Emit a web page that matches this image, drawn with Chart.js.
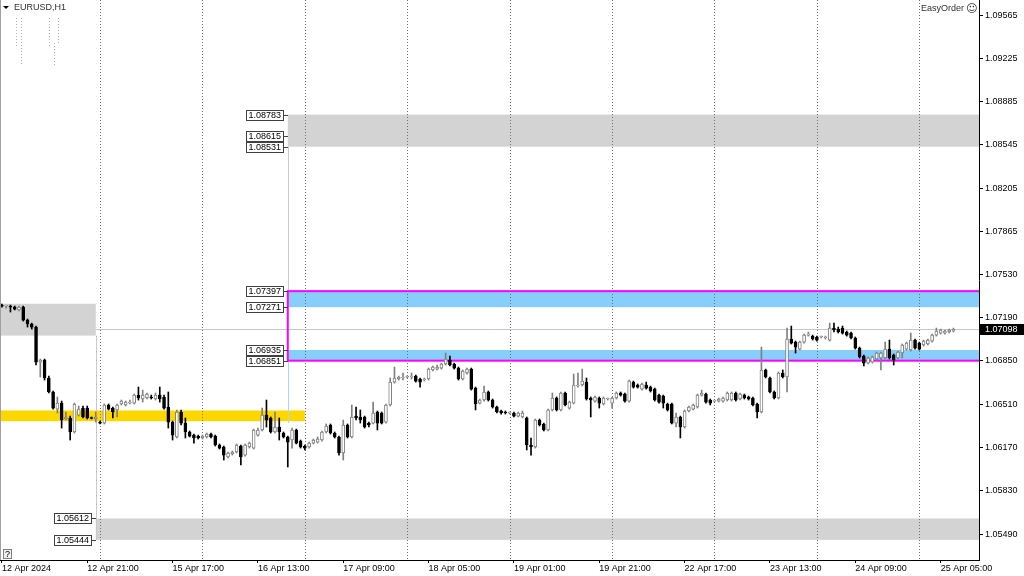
<!DOCTYPE html>
<html>
<head>
<meta charset="utf-8">
<title>EURUSD,H1</title>
<script src="https://cdn.jsdelivr.net/npm/chart.js@4.4.1/dist/chart.umd.min.js"></script>
<style>
    html, body { margin: 0; padding: 0; background: #ffffff; }
    canvas { display: block; }
</style>
</head>
<body>
<canvas id="chartEurusd" width="1024" height="576"></canvas>
<script>
// =============================================
// EURUSD H1 - velas, zonas y niveles
// =============================================

// Eje X: barras horarias desde 12 Apr 01:00 (barra 0)
const tickBars = [0, 20, 40, 60, 80, 100, 120, 140, 160, 180, 200, 220];
const tickLabels = ['12 Apr 2024', '12 Apr 21:00', '15 Apr 17:00', '16 Apr 13:00', '17 Apr 09:00',
    '18 Apr 05:00', '19 Apr 01:00', '19 Apr 21:00', '22 Apr 17:00', '23 Apr 13:00', '24 Apr 09:00', '25 Apr 05:00'];
const separatorBars = [23, 47, 71, 95, 119, 143, 167, 191, 215];   // 00:00 de cada día

// Eje Y
const priceTicks = [1.09565, 1.09225, 1.08885, 1.08545, 1.08205, 1.07865, 1.07530,
    1.07190, 1.06850, 1.06510, 1.06170, 1.05830, 1.05490];
const lastPrice = 1.07098;

// Velas OHLC
const opens = [
    1.07288,1.07280,1.07280,1.07272,1.07249,1.07272,1.07170,1.07139,1.07115,1.06840,1.06856,1.06715,1.06605,1.06471,1.06518,1.06393,
    1.06401,1.06291,1.06424,1.06479,1.06479,1.06401,1.06393,1.06369,1.06361,1.06503,1.06479,1.06464,1.06511,1.06503,1.06518,1.06518,
    1.06581,1.06550,1.06558,1.06566,1.06550,1.06581,1.06566,1.06487,1.06369,1.06252,1.06448,1.06361,1.06291,1.06267,1.06259,1.06244,
    1.06252,1.06275,1.06259,1.06189,1.06173,1.06095,1.06118,1.06134,1.06181,1.06110,1.06173,1.06165,1.06267,1.06307,1.06424,1.06401,
    1.06291,1.06330,1.06283,1.06252,1.06228,1.06307,1.06220,1.06181,1.06173,1.06204,1.06212,1.06228,1.06291,1.06346,1.06283,1.06252,
    1.06126,1.06346,1.06252,1.06416,1.06409,1.06409,1.06361,1.06361,1.06448,1.06440,1.06369,1.06503,1.06683,1.06707,1.06715,1.06723,
    1.06723,1.06730,1.06707,1.06699,1.06707,1.06778,1.06785,1.06793,1.06825,1.06856,1.06825,1.06793,1.06707,1.06754,1.06785,1.06636,
    1.06518,1.06542,1.06605,1.06542,1.06487,1.06456,1.06448,1.06440,1.06440,1.06416,1.06409,1.06401,1.06189,1.06173,1.06385,1.06354,
    1.06307,1.06464,1.06558,1.06464,1.06597,1.06479,1.06518,1.06652,1.06660,1.06683,1.06558,1.06534,1.06558,1.06511,1.06550,1.06518,
    1.06558,1.06597,1.06589,1.06534,1.06683,1.06660,1.06628,1.06660,1.06644,1.06628,1.06581,1.06573,1.06511,1.06511,1.06361,1.06409,
    1.06330,1.06456,1.06471,1.06487,1.06581,1.06589,1.06542,1.06534,1.06534,1.06534,1.06542,1.06542,1.06597,1.06550,1.06581,1.06566,
    1.06558,1.06511,1.06448,1.06778,1.06715,1.06605,1.06558,1.06754,1.06723,1.07021,1.06997,1.06942,1.06997,1.07052,1.07044,1.07037,
    1.07037,1.07029,1.07013,1.07107,1.07099,1.07107,1.07076,1.07068,1.07029,1.06950,1.06887,1.06832,1.06840,1.06864,1.06872,1.06872,
    1.06942,1.06895,1.06872,1.06911,1.06942,1.06935,1.07013,1.06989,1.06974,1.06982,1.07005,1.07052,1.07068,1.07068,1.07076,1.07084
];
const highs = [
    1.07296,1.07288,1.07288,1.07280,1.07280,1.07280,1.07178,1.07146,1.07123,1.06864,1.06864,1.06730,1.06613,1.06566,1.06534,1.06448,
    1.06416,1.06518,1.06495,1.06495,1.06495,1.06409,1.06448,1.06377,1.06511,1.06511,1.06487,1.06511,1.06542,1.06534,1.06542,1.06589,
    1.06644,1.06620,1.06597,1.06581,1.06597,1.06644,1.06581,1.06605,1.06377,1.06464,1.06464,1.06401,1.06299,1.06275,1.06267,1.06267,
    1.06283,1.06283,1.06267,1.06197,1.06181,1.06134,1.06142,1.06197,1.06189,1.06197,1.06212,1.06314,1.06322,1.06479,1.06542,1.06409,
    1.06448,1.06401,1.06291,1.06259,1.06322,1.06314,1.06228,1.06189,1.06212,1.06236,1.06252,1.06299,1.06354,1.06354,1.06291,1.06259,
    1.06385,1.06354,1.06503,1.06487,1.06464,1.06416,1.06369,1.06526,1.06456,1.06448,1.06511,1.06715,1.06801,1.06730,1.06754,1.06730,
    1.06754,1.06738,1.06715,1.06715,1.06793,1.06809,1.06817,1.06832,1.06911,1.06887,1.06832,1.06801,1.06778,1.06793,1.06793,1.06644,
    1.06550,1.06652,1.06613,1.06550,1.06495,1.06464,1.06456,1.06448,1.06448,1.06448,1.06456,1.06409,1.06244,1.06393,1.06393,1.06361,
    1.06471,1.06597,1.06566,1.06605,1.06605,1.06534,1.06746,1.06754,1.06785,1.06715,1.06566,1.06573,1.06566,1.06566,1.06558,1.06566,
    1.06605,1.06605,1.06597,1.06699,1.06691,1.06668,1.06675,1.06683,1.06652,1.06636,1.06589,1.06581,1.06518,1.06518,1.06440,1.06416,
    1.06464,1.06495,1.06511,1.06589,1.06620,1.06597,1.06550,1.06542,1.06558,1.06566,1.06605,1.06605,1.06605,1.06597,1.06589,1.06573,
    1.06566,1.06518,1.06958,1.06785,1.06723,1.06613,1.06762,1.06778,1.07107,1.07123,1.07005,1.07005,1.07060,1.07076,1.07052,1.07044,
    1.07044,1.07044,1.07146,1.07146,1.07115,1.07123,1.07084,1.07076,1.07037,1.06958,1.06895,1.06880,1.06887,1.06919,1.06919,1.06997,
    1.07013,1.06903,1.06927,1.06982,1.06997,1.07068,1.07021,1.06997,1.07013,1.07021,1.07060,1.07107,1.07099,1.07092,1.07099,1.07107
];
const lows = [
    1.07272,1.07264,1.07233,1.07249,1.07241,1.07162,1.07115,1.07099,1.06817,1.06723,1.06699,1.06597,1.06471,1.06440,1.06322,1.06385,
    1.06228,1.06283,1.06416,1.06401,1.06393,1.06393,1.06369,1.06354,1.06354,1.06464,1.06401,1.06409,1.06503,1.06495,1.06511,1.06511,
    1.06542,1.06526,1.06550,1.06550,1.06542,1.06526,1.06471,1.06322,1.06228,1.06244,1.06346,1.06244,1.06252,1.06204,1.06236,1.06236,
    1.06244,1.06244,1.06181,1.06157,1.06071,1.06087,1.06110,1.06126,1.06032,1.06102,1.06165,1.06157,1.06259,1.06299,1.06330,1.06283,
    1.06283,1.06228,1.06244,1.06016,1.06165,1.06197,1.06165,1.06150,1.06165,1.06197,1.06204,1.06220,1.06283,1.06275,1.06244,1.06110,
    1.06071,1.06244,1.06244,1.06385,1.06361,1.06322,1.06330,1.06354,1.06307,1.06354,1.06361,1.06495,1.06675,1.06699,1.06699,1.06715,
    1.06707,1.06683,1.06644,1.06691,1.06699,1.06770,1.06778,1.06785,1.06817,1.06809,1.06785,1.06699,1.06699,1.06746,1.06620,1.06464,
    1.06511,1.06534,1.06534,1.06479,1.06440,1.06432,1.06432,1.06432,1.06409,1.06409,1.06401,1.06150,1.06110,1.06165,1.06338,1.06299,
    1.06299,1.06456,1.06456,1.06456,1.06495,1.06471,1.06511,1.06644,1.06652,1.06542,1.06409,1.06526,1.06479,1.06503,1.06542,1.06479,
    1.06550,1.06573,1.06526,1.06526,1.06636,1.06636,1.06620,1.06628,1.06605,1.06534,1.06518,1.06479,1.06456,1.06354,1.06330,1.06244,
    1.06322,1.06448,1.06464,1.06479,1.06573,1.06518,1.06503,1.06526,1.06526,1.06526,1.06534,1.06534,1.06534,1.06542,1.06550,1.06542,
    1.06495,1.06401,1.06440,1.06715,1.06597,1.06550,1.06550,1.06715,1.06605,1.06982,1.06911,1.06935,1.06989,1.07044,1.07013,1.07005,
    1.07029,1.07021,1.07005,1.07076,1.07068,1.07060,1.07044,1.07021,1.06942,1.06872,1.06809,1.06825,1.06832,1.06856,1.06778,1.06864,
    1.06864,1.06817,1.06864,1.06872,1.06935,1.06927,1.06942,1.06935,1.06966,1.06974,1.06997,1.07044,1.07060,1.07060,1.07068,1.07076
];
const closes = [
    1.07280,1.07280,1.07272,1.07256,1.07272,1.07170,1.07139,1.07115,1.06840,1.06856,1.06715,1.06605,1.06479,1.06518,1.06385,1.06409,
    1.06291,1.06511,1.06471,1.06409,1.06401,1.06397,1.06409,1.06361,1.06503,1.06471,1.06448,1.06503,1.06534,1.06526,1.06526,1.06581,
    1.06558,1.06581,1.06589,1.06558,1.06581,1.06550,1.06479,1.06369,1.06267,1.06448,1.06361,1.06291,1.06259,1.06244,1.06244,1.06259,
    1.06275,1.06252,1.06189,1.06165,1.06110,1.06126,1.06134,1.06189,1.06095,1.06189,1.06204,1.06307,1.06307,1.06424,1.06385,1.06291,
    1.06330,1.06291,1.06252,1.06212,1.06307,1.06204,1.06173,1.06165,1.06204,1.06228,1.06236,1.06291,1.06338,1.06283,1.06252,1.06126,
    1.06346,1.06252,1.06409,1.06401,1.06385,1.06330,1.06346,1.06440,1.06361,1.06361,1.06503,1.06683,1.06715,1.06723,1.06723,1.06723,
    1.06730,1.06691,1.06683,1.06707,1.06785,1.06801,1.06801,1.06825,1.06864,1.06817,1.06793,1.06707,1.06770,1.06785,1.06628,1.06511,
    1.06542,1.06605,1.06542,1.06487,1.06448,1.06440,1.06440,1.06440,1.06416,1.06440,1.06440,1.06189,1.06173,1.06385,1.06346,1.06307,
    1.06464,1.06558,1.06464,1.06597,1.06503,1.06526,1.06660,1.06660,1.06691,1.06550,1.06542,1.06566,1.06518,1.06558,1.06550,1.06558,
    1.06597,1.06581,1.06534,1.06691,1.06644,1.06644,1.06668,1.06636,1.06613,1.06542,1.06526,1.06518,1.06464,1.06361,1.06409,1.06330,
    1.06456,1.06487,1.06503,1.06581,1.06597,1.06526,1.06518,1.06534,1.06550,1.06558,1.06597,1.06597,1.06542,1.06589,1.06558,1.06550,
    1.06503,1.06448,1.06778,1.06723,1.06605,1.06558,1.06754,1.06723,1.07021,1.06989,1.06958,1.06997,1.07052,1.07052,1.07021,1.07013,
    1.07037,1.07037,1.07107,1.07092,1.07076,1.07068,1.07052,1.07029,1.06950,1.06880,1.06832,1.06872,1.06880,1.06911,1.06911,1.06942,
    1.06872,1.06856,1.06919,1.06974,1.06989,1.07013,1.06950,1.06942,1.07005,1.07013,1.07052,1.07084,1.07092,1.07084,1.07092,1.07098
];

// Objetos del gráfico: zonas (precio alto / bajo, barra inicial / final; null = borde del gráfico)
const zones = [
    { kind: 'gray',   hi: 1.08783, lo: 1.08531, from: 67,   to: null },
    { kind: 'gray',   hi: 1.07298, lo: 1.07048, from: null, to: 22 },
    { kind: 'gray',   hi: 1.05612, lo: 1.05444, from: 22,   to: null },
    { kind: 'blue',   hi: 1.07397, lo: 1.07271, from: 67,   to: null },
    { kind: 'blue',   hi: 1.06935, lo: 1.06851, from: 67,   to: null },
    { kind: 'yellow', hi: 1.06460, lo: 1.06376, from: null, to: 71 }
];
const frameBox = { hi: 1.07397, lo: 1.06851, from: 67 };
const connectors = [
    { kind: 'gray', bar: 67, hi: 1.08531, lo: 1.07397 },
    { kind: 'blue', bar: 67, hi: 1.06851, lo: 1.06361 },
    { kind: 'gray', bar: 22, hi: 1.07048, lo: 1.05444 }
];
const levelLabels = [
    { price: 1.08783, bar: 67 }, { price: 1.08615, bar: 67 }, { price: 1.08531, bar: 67 },
    { price: 1.07397, bar: 67 }, { price: 1.07271, bar: 67 }, { price: 1.06935, bar: 67 },
    { price: 1.06851, bar: 67 }, { price: 1.05612, bar: 22 }, { price: 1.05444, bar: 22 }
];

(function() {
    'use strict';

    const FONT = '"Liberation Sans", Arial, sans-serif';
    const zoneColors = { gray: '#d3d3d3', blue: '#87cefa', yellow: '#ffd700' };
    const connectorColors = { gray: '#c8c8c8', blue: '#a8d8f5' };

    const isBull = opens.map((o, i) => closes[i] >= o);

    // Zonas, separadores y línea de precio (debajo de las velas)
    const objectsPlugin = {
        id: 'mtObjects',
        beforeDatasetsDraw(chart) {
            const { ctx, chartArea: a, scales: { x, y } } = chart;
            ctx.save();
            ctx.beginPath();
            ctx.rect(a.left, a.top, a.right - a.left, a.bottom - a.top);
            ctx.clip();

            // línea del último precio
            const py = Math.round(y.getPixelForValue(lastPrice)) + 0.5;
            ctx.strokeStyle = '#c8c8c8';
            ctx.lineWidth = 1;
            ctx.beginPath(); ctx.moveTo(a.left, py); ctx.lineTo(a.right, py); ctx.stroke();

            zones.forEach(z => {
                const x1 = z.from === null ? a.left : x.getPixelForValue(z.from);
                const x2 = z.to === null ? a.right : x.getPixelForValue(z.to);
                const y1 = y.getPixelForValue(z.hi);
                const y2 = y.getPixelForValue(z.lo);
                ctx.fillStyle = zoneColors[z.kind];
                ctx.fillRect(x1, y1, x2 - x1, y2 - y1);
            });

            connectors.forEach(c => {
                const cx = Math.round(x.getPixelForValue(c.bar)) + 0.5;
                ctx.strokeStyle = connectorColors[c.kind];
                ctx.beginPath();
                ctx.moveTo(cx, y.getPixelForValue(c.hi));
                ctx.lineTo(cx, y.getPixelForValue(c.lo));
                ctx.stroke();
            });

            // rectángulo magenta
            const fx = x.getPixelForValue(frameBox.from);
            const fy1 = y.getPixelForValue(frameBox.hi);
            const fy2 = y.getPixelForValue(frameBox.lo);
            ctx.strokeStyle = '#ff00ff';
            ctx.lineWidth = 2;
            ctx.strokeRect(fx, fy1, a.right + 4 - fx, fy2 - fy1);

            // separadores de día
            ctx.strokeStyle = '#707070';
            ctx.lineWidth = 1;
            ctx.setLineDash([1, 2]);
            separatorBars.forEach(b => {
                const sx = Math.round(x.getPixelForValue(b)) + 0.5;
                ctx.beginPath(); ctx.moveTo(sx, a.top); ctx.lineTo(sx, a.bottom); ctx.stroke();
            });
            ctx.setLineDash([]);
            ctx.restore();
        },
        afterDraw(chart) {
            const { ctx, chartArea: a, scales: { x, y } } = chart;
            ctx.save();
            ctx.font = '9px ' + FONT;
            ctx.textBaseline = 'middle';

            // etiquetas de precio de los objetos
            levelLabels.forEach(l => {
                const ax = Math.round(x.getPixelForValue(l.bar));
                const ly = Math.round(y.getPixelForValue(l.price));
                const text = l.price.toFixed(5);
                const w = Math.ceil(ctx.measureText(text).width) + 4;
                const bx = ax - 5 - w;
                ctx.strokeStyle = '#404040';
                ctx.lineWidth = 1;
                ctx.beginPath(); ctx.moveTo(ax - 5, ly + 0.5); ctx.lineTo(ax, ly + 0.5); ctx.stroke();
                ctx.fillStyle = '#ffffff';
                ctx.fillRect(bx, ly - 5, w, 11);
                ctx.strokeRect(bx + 0.5, ly - 4.5, w, 10);
                ctx.fillStyle = '#000000';
                ctx.textAlign = 'left';
                ctx.fillText(text, bx + 2.5, ly + 0.5);
            });

            // marco izquierdo
            ctx.strokeStyle = '#a0a0a0';
            ctx.beginPath(); ctx.moveTo(0.5, a.top); ctx.lineTo(0.5, a.bottom); ctx.stroke();

            // cabecera
            ctx.fillStyle = '#000000';
            ctx.beginPath(); ctx.moveTo(3, 6); ctx.lineTo(9, 6); ctx.lineTo(6, 9); ctx.closePath(); ctx.fill();
            ctx.fillStyle = '#303030';
            ctx.fillText('EURUSD,H1', 14, 8);
            ctx.textAlign = 'right';
            ctx.fillText('EasyOrder', 964, 9);
            ctx.font = '11px "DejaVu Sans", sans-serif';
            ctx.textAlign = 'left';
            ctx.fillText('\u263A', 966, 9);

            // restos punteados del panel superior
            ctx.strokeStyle = '#b0b0b0';
            ctx.setLineDash([1, 2]);
            [[16.5, 18, 47], [21.5, 18, 65], [49.5, 18, 47], [54.5, 43, 67], [58.5, 18, 43]].forEach(d => {
                ctx.beginPath(); ctx.moveTo(d[0], d[1]); ctx.lineTo(d[0], d[2]); ctx.stroke();
            });
            ctx.setLineDash([]);

            // botón "?"
            ctx.fillStyle = '#f0f0f0';
            ctx.fillRect(3, 549, 9, 10);
            ctx.strokeStyle = '#808080';
            ctx.strokeRect(3.5, 549.5, 8, 9);
            ctx.fillStyle = '#000000';
            ctx.font = '9px ' + FONT;
            ctx.textAlign = 'center';
            ctx.fillText('?', 7.5, 554.5);

            // precio actual en el eje
            const py = Math.round(y.getPixelForValue(lastPrice));
            ctx.fillStyle = '#000000';
            ctx.fillRect(a.right + 1, py - 5, 1024 - a.right - 1, 11);
            ctx.fillStyle = '#ffffff';
            ctx.textAlign = 'left';
            ctx.fillText(lastPrice.toFixed(5), a.right + 6, py + 0.5);
            ctx.restore();
        }
    };

    const ctx = document.getElementById('chartEurusd').getContext('2d');
    const chart = new Chart(ctx, {
        type: 'bar',
        data: {
            datasets: [
                {
                    label: 'Mechas',
                    data: opens.map((o, i) => ({ x: i, y: [lows[i], highs[i]] })),
                    backgroundColor: isBull.map(b => b ? '#808080' : '#000000'),
                    barThickness: 1,
                    grouped: false,
                    order: 2
                },
                {
                    label: 'Cuerpos',
                    data: opens.map((o, i) => ({ x: i, y: [o, closes[i]] })),
                    backgroundColor: isBull.map(b => b ? '#ffffff' : '#000000'),
                    borderColor: isBull.map(b => b ? '#808080' : '#000000'),
                    borderWidth: 1,
                    borderSkipped: false,
                    barThickness: 3,
                    minBarLength: 1,
                    grouped: false,
                    order: 1
                }
            ]
        },
        options: {
            responsive: false,
            animation: false,
            devicePixelRatio: 1,
            layout: { padding: 0 },
            plugins: {
                legend: { display: false },
                tooltip: { enabled: false }
            },
            scales: {
                x: {
                    type: 'linear',
                    position: 'bottom',
                    min: -0.445,
                    max: 228.99,
                    offset: false,
                    afterBuildTicks: s => { s.ticks = tickBars.map(v => ({ value: v })); },
                    afterFit: s => { s.height = 16; s.paddingLeft = 0; s.paddingRight = 0; },
                    grid: { drawOnChartArea: false, drawTicks: true, tickLength: 3, color: '#000000', offset: false },
                    border: { display: true, color: '#000000' },
                    ticks: {
                        autoSkip: false,
                        maxRotation: 0,
                        minRotation: 0,
                        align: 'start',
                        padding: 0,
                        color: '#000000',
                        font: { family: FONT, size: 9 },
                        callback: (v, i) => tickLabels[i]
                    }
                },
                y: {
                    type: 'linear',
                    position: 'right',
                    min: 1.05286,
                    max: 1.09683,
                    afterBuildTicks: s => { s.ticks = priceTicks.map(v => ({ value: v })); },
                    afterFit: s => { s.width = 45; s.paddingTop = 0; s.paddingBottom = 0; },
                    grid: { drawOnChartArea: false, drawTicks: true, tickLength: 4, color: '#000000' },
                    border: { display: true, color: '#000000' },
                    ticks: {
                        padding: 2,
                        color: '#000000',
                        font: { family: FONT, size: 9 },
                        callback: v => v.toFixed(5)
                    }
                }
            }
        },
        plugins: [objectsPlugin]
    });

    window.chartsInstances = { eurusd: chart };
})();
</script>
</body>
</html>
